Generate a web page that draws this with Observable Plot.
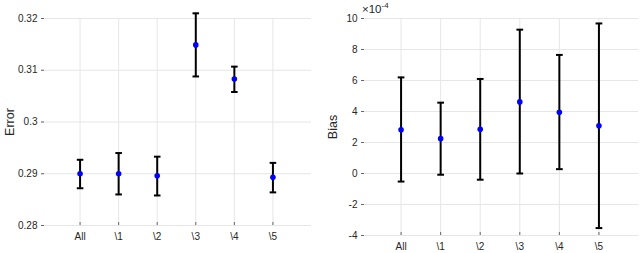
<!DOCTYPE html>
<html>
<head>
<meta charset="utf-8">
<script src="https://cdn.jsdelivr.net/npm/d3@7"></script>
<script src="https://cdn.jsdelivr.net/npm/@observablehq/plot@0.6"></script>
<style>
  html, body { margin: 0; padding: 0; background: #fff; }
  #wrap { display: flex; width: 640px; height: 253px; }
  svg { font-family: "Liberation Sans", Arial, Helvetica, sans-serif; }
</style>
</head>
<body>
<div id="wrap"></div>
<script>
// ---- data ----
const categories = ["All", "\\1", "\\2", "\\3", "\\4", "\\5"];

const errorMean = [0.2900, 0.2900, 0.2896, 0.3149, 0.3083, 0.2893];
const errorLow  = [0.2872, 0.2860, 0.2858, 0.3088, 0.3058, 0.2864];
const errorHigh = [0.2927, 0.2940, 0.2933, 0.3210, 0.3107, 0.2921];
const errorTicks = [0.28, 0.29, 0.30, 0.31, 0.32];

// bias values in units of 1e-4
const biasMean = [2.82, 2.25, 2.85, 4.62, 3.95, 3.08];
const biasLow  = [-0.52, -0.08, -0.40, 0.00, 0.28, -3.52];
const biasHigh = [6.20, 4.57, 6.10, 9.28, 7.65, 9.68];
const biasTicks = [-4, -2, 0, 2, 4, 6, 8, 10];
const biasExponent = "-4";

const gridColor = "#e6e6e6";
const axisColor = "#262626";
const capHalf = 0.085;

function makeChart({mean, low, high, yDomain, yTicks, yFormat, yLabel, labelOffset, marginRight, marginBottom}) {
  const rows = categories.map((c, i) => ({pos: i + 1, cat: c, mean: mean[i], low: low[i], high: high[i]}));
  const pos = rows.map(d => d.pos);
  const svg = Plot.plot({
    width: 320,
    height: 253,
    marginLeft: 41,
    marginRight,
    marginTop: 18,
    marginBottom,
    style: {fontSize: "10px", color: axisColor, background: "white"},
    x: {domain: [0, 7]},
    y: {domain: yDomain},
    marks: [
      Plot.gridX(pos, {stroke: gridColor, strokeOpacity: 1}),
      Plot.gridY(yTicks, {stroke: gridColor, strokeOpacity: 1}),
      Plot.axisX(pos, {tickFormat: p => categories[p - 1], tickSize: -3, tickPadding: 10, stroke: "#666", line: true, label: null, fill: axisColor}),
      Plot.axisY(yTicks, {tickFormat: yFormat, tickSize: -3, tickPadding: 7, stroke: "#666", line: true, fill: axisColor,
        label: yLabel, labelAnchor: "center", labelArrow: "none", labelOffset}),
      Plot.ruleX(rows, {x: "pos", y1: "low", y2: "high", stroke: "black", strokeWidth: 2}),
      Plot.link(rows, {x1: d => d.pos - capHalf, x2: d => d.pos + capHalf, y1: "high", y2: "high", stroke: "black", strokeWidth: 2}),
      Plot.link(rows, {x1: d => d.pos - capHalf, x2: d => d.pos + capHalf, y1: "low", y2: "low", stroke: "black", strokeWidth: 2}),
      Plot.dot(rows, {x: "pos", y: "mean", r: 2.8, fill: "#0000ff", stroke: "none"})
    ]
  });
  d3.select(svg).selectAll("g[aria-label='y-axis label'] text").style("font-size", "12.5px");
  return svg;
}

const left = makeChart({
  mean: errorMean, low: errorLow, high: errorHigh,
  yDomain: [0.28, 0.32], yTicks: errorTicks,
  yFormat: d => String(+d.toFixed(2)),
  yLabel: "Error", labelOffset: 36, marginRight: 9, marginBottom: 28
});

const right = makeChart({
  mean: biasMean, low: biasLow, high: biasHigh,
  yDomain: [-4, 10], yTicks: biasTicks,
  yFormat: d => String(d),
  yLabel: "Bias", labelOffset: 33, marginRight: 2, marginBottom: 18
});

const wrap = document.getElementById("wrap");
wrap.appendChild(left);
wrap.appendChild(right);

// exponent label "×10^-4" above the right axis
const ex = d3.select(right).append("text")
  .attr("x", 42).attr("y", 13)
  .attr("text-anchor", "start")
  .attr("fill", axisColor)
  .style("font-size", "11.5px");
ex.append("tspan").text("×10");
ex.append("tspan").attr("dy", -5).style("font-size", "8px").text(biasExponent);
</script>
</body>
</html>
